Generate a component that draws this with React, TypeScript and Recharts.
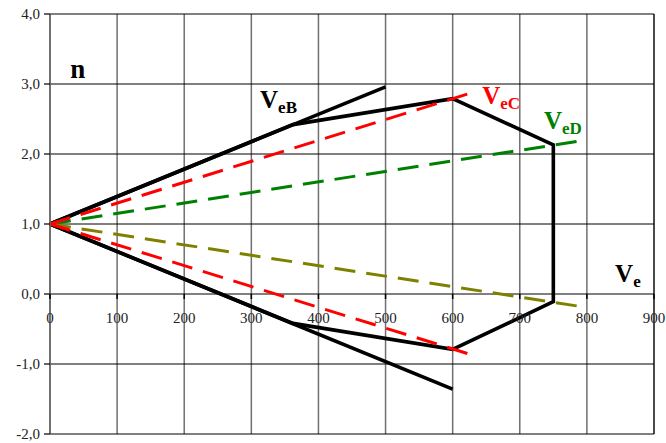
import React from 'react';
import {
  ComposedChart,
  Line,
  XAxis,
  YAxis,
  CartesianGrid,
  ReferenceDot,
  ReferenceLine,
} from 'recharts';

// Speed ticks (V_e) and load-factor ticks (n)
const speedTicks = [0, 100, 200, 300, 400, 500, 600, 700, 800, 900];
const loadTicks = [-2, -1, 0, 1, 2, 3, 4];

// Gust lines through n = 1
const gustUpper = [
  { v: 0, n: 1 },
  { v: 500, n: 2.96 },
];
const gustLower = [
  { v: 0, n: 1 },
  { v: 600, n: -1.36 },
];

// Combined envelope
const envelope = [
  { v: 0, n: 1 },
  { v: 362, n: 2.42 },
  { v: 600, n: 2.79 },
  { v: 750, n: 2.13 },
  { v: 750, n: -0.11 },
  { v: 600, n: -0.79 },
  { v: 362, n: -0.42 },
  { v: 0, n: 1 },
];

// Gust lines at V_eC
const gustCUpper = [
  { v: 0, n: 1 },
  { v: 630, n: 2.88 },
];
const gustCLower = [
  { v: 0, n: 1 },
  { v: 632, n: -0.88 },
];

// Gust lines at V_eD
const gustDUpper = [
  { v: 0, n: 1 },
  { v: 785, n: 2.18 },
];
const gustDLower = [
  { v: 0, n: 1 },
  { v: 785, n: -0.17 },
];

// Annotation labels: main letter, subscript, anchor (v, n), colour
const labels = [
  { main: 'n', sub: '', v: 30, n: 3.09, color: '#000000' },
  { main: 'V', sub: 'eB', v: 313, n: 2.66, color: '#000000' },
  { main: 'V', sub: 'eC', v: 644, n: 2.72, color: '#ff0000' },
  { main: 'V', sub: 'eD', v: 736, n: 2.36, color: '#008000' },
  { main: 'V', sub: 'e', v: 842, n: 0.165, color: '#000000' },
];

const SERIF = '"Liberation Serif", "Times New Roman", serif';

const fmtLoad = (n: number) => n.toFixed(1).replace('.', ',');

const SpeedTick = (props: any) => {
  const { cx, cy, label } = props;
  return (
    <g>
      <line x1={cx} y1={cy} x2={cx} y2={cy + 5} stroke="#000" strokeWidth={1.5} />
      <text
        x={cx}
        y={cy + 29}
        textAnchor="middle"
        fontFamily={SERIF}
        fontSize={15}
        fill="#222"
      >
        {label}
      </text>
    </g>
  );
};

const Annotation = (props: any) => {
  const { cx, cy, main, sub, color } = props;
  return (
    <text
      x={cx}
      y={cy}
      fontFamily={SERIF}
      fontWeight="bold"
      fill={color}
    >
      <tspan fontSize={main === 'n' ? 27 : 25}>{main}</tspan>
      {sub ? (
        <tspan fontSize={17} dy={5}>
          {sub}
        </tspan>
      ) : null}
    </text>
  );
};

const dashed = '21 11';

export default function App() {
  return (
    <div style={{ position: 'absolute', left: 0, top: 0 }}>
      <ComposedChart
        width={666}
        height={443}
        margin={{ top: 14, right: 12, bottom: 9, left: 0 }}
      >
        <XAxis
          dataKey="v"
          type="number"
          domain={[0, 900]}
          ticks={speedTicks}
          hide
        />
        <YAxis
          dataKey="n"
          type="number"
          domain={[-2, 4]}
          ticks={loadTicks}
          width={50}
          tickFormatter={fmtLoad}
          tickSize={6}
          tickMargin={4}
          axisLine={{ stroke: '#666', strokeWidth: 1.5 }}
          tickLine={{ stroke: '#000', strokeWidth: 1.2 }}
          tick={{ fontFamily: SERIF, fontSize: 15, fill: '#222' }}
          interval={0}
        />
        <CartesianGrid
          horizontal={false}
          stroke="#707070"
          strokeWidth={1.5}
        />
        <CartesianGrid vertical={false} stroke="#000" strokeWidth={1} />
        <ReferenceLine x={900} stroke="#000" strokeWidth={1} />

        {speedTicks.map((t) => (
          <ReferenceDot
            key={`t${t}`}
            x={t}
            y={0}
            r={0}
            shape={(p: any) => <SpeedTick {...p} label={String(t)} />}
          />
        ))}

        <Line data={gustUpper} dataKey="n" stroke="#000" strokeWidth={3.6} dot={false} isAnimationActive={false} />
        <Line data={gustLower} dataKey="n" stroke="#000" strokeWidth={3.6} dot={false} isAnimationActive={false} />
        <Line data={envelope} dataKey="n" stroke="#000" strokeWidth={3.6} strokeLinejoin="miter" dot={false} isAnimationActive={false} />
        <Line data={gustDUpper} dataKey="n" stroke="#008000" strokeWidth={3} strokeDasharray={dashed} dot={false} isAnimationActive={false} />
        <Line data={gustDLower} dataKey="n" stroke="#808000" strokeWidth={3} strokeDasharray={dashed} dot={false} isAnimationActive={false} />
        <Line data={gustCUpper} dataKey="n" stroke="#ff0000" strokeWidth={3} strokeDasharray={dashed} dot={false} isAnimationActive={false} />
        <Line data={gustCLower} dataKey="n" stroke="#ff0000" strokeWidth={3} strokeDasharray={dashed} dot={false} isAnimationActive={false} />

        {labels.map((l) => (
          <ReferenceDot
            key={`${l.main}${l.sub}`}
            x={l.v}
            y={l.n}
            r={0}
            shape={(p: any) => (
              <Annotation {...p} main={l.main} sub={l.sub} color={l.color} />
            )}
          />
        ))}
      </ComposedChart>
    </div>
  );
}
